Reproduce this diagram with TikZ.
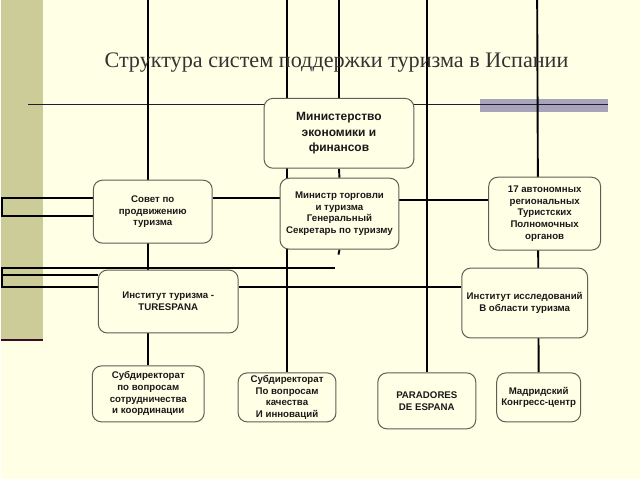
\documentclass[tikz,border=0pt]{standalone}
\usepackage{fontspec}
\setmainfont{Liberation Serif}
\newfontfamily\boxfont{Liberation Sans}
\usetikzlibrary{calc}
\definecolor{cream}{RGB}{255,255,230}
\definecolor{khaki}{RGB}{204,204,153}
\definecolor{bandgray}{RGB}{168,164,186}
\definecolor{bandline}{RGB}{35,28,55}
\definecolor{stripline}{RGB}{60,10,40}
\definecolor{boxedge}{RGB}{95,95,85}
\pgfdeclarelayer{bg}\pgfdeclarelayer{lines}\pgfsetlayers{bg,lines,main}
\begin{document}
\begin{tikzpicture}[x=1pt,y=-1pt,
  orgbox/.style={draw=boxedge, line width=1pt, fill=cream, rounded corners=9pt,
    inner sep=0pt, anchor=north west, align=center, text=black!90,
    font=\boxfont\bfseries\fontsize{9.7}{11.7}\selectfont},
  conn/.style={line width=1.9pt, black},
  thinline/.style={line width=1.2pt, bandline}]
% background
\begin{pgfonlayer}{bg}
\fill[cream] (0,0) rectangle (640,480);
\fill[khaki] (0,0) rectangle (42,341);
\draw[stripline, line width=2pt] (0,341) -- (42,341);
\fill[bandgray] (480,99) rectangle (608,112);
\end{pgfonlayer}
\useasboundingbox (0,0) rectangle (640,480);
% title
\node[anchor=base, font=\fontsize{22.2}{26}\selectfont, text=black!80, inner sep=0pt] (title) at (336,68) {Структура систем поддержки туризма в Испании};
% boxes
\node[orgbox, minimum width=150pt, minimum height=70pt, font=\boxfont\bfseries\fontsize{12}{15.5}\selectfont] (mef) at (263,98) {Министерство\\экономики и\\финансов};
\node[orgbox, minimum width=119pt, minimum height=63pt] (sov) at (92,180) {Совет по\\продвижению\\туризма};
\node[orgbox, minimum width=119pt, minimum height=71pt] (mtr) at (279,178) {Министр торговли\\и туризма\\Генеральный\\Секретарь по туризму};
\node[orgbox, minimum width=112pt, minimum height=73pt] (avt) at (488,177) {17 автономных\\региональных\\Туристских\\Полномочных\\органов};
\node[orgbox, minimum width=140pt, minimum height=63pt] (ist) at (97,270) {Институт туризма -\\TURESPANA};
\node[orgbox, minimum width=126pt, minimum height=70pt] (iss) at (461,268) {Институт исследований\\В области туризма};
\node[orgbox, minimum width=112pt, minimum height=56pt] (sub1) at (91,366) {Субдиректорат\\по вопросам\\сотрудничества\\и координации};
\node[orgbox, minimum width=98pt, minimum height=49pt] (sub2) at (237,373) {Субдиректорат\\По вопросам\\качества\\И инноваций};
\node[orgbox, minimum width=98pt, minimum height=56pt] (par) at (377,373) {PARADORES\\DE ESPANA};
\node[orgbox, minimum width=84pt, minimum height=49pt] (mad) at (496,373) {Мадридский\\Конгресс-центр};
% connectors
\begin{pgfonlayer}{lines}
\draw[thinline] (27,104.5) -- (608,104.5);
\coordinate (stub) at (338,255);
\coordinate (rowend) at (335,268);
\draw[conn] (sub1.north |- 0,0) -- (sub1.north);
\draw[conn] (sub2.north |- 0,0) -- (sub2.north);
\draw[conn] (mef.north |- 0,0) -- (mef.north);
\draw[conn] (mef.south) -- (mtr.north);
\draw[conn] (mtr.south) -- (stub);
\draw[conn] (par.north |- 0,0) -- (par.north);
\draw[conn] (537,0) -- (mad.north);
\draw[conn] (sov.west |- 0,198) -- (1,198) -- (1,216) -- (sov.west |- 0,216);
\draw[conn] (sov.east |- 0,198) -- (mtr.west |- 0,198);
\draw[conn] (mtr.east |- 0,200) -- (avt.west |- 0,200);
\draw[conn] (rowend) -- (1,268) -- (1,287) -- (ist.west |- 0,287);
\draw[conn] (1,275) -- (ist.west |- 0,275);
\draw[conn] (ist.east |- 0,287) -- (iss.west |- 0,287);
\end{pgfonlayer}
\end{tikzpicture}
\end{document}
